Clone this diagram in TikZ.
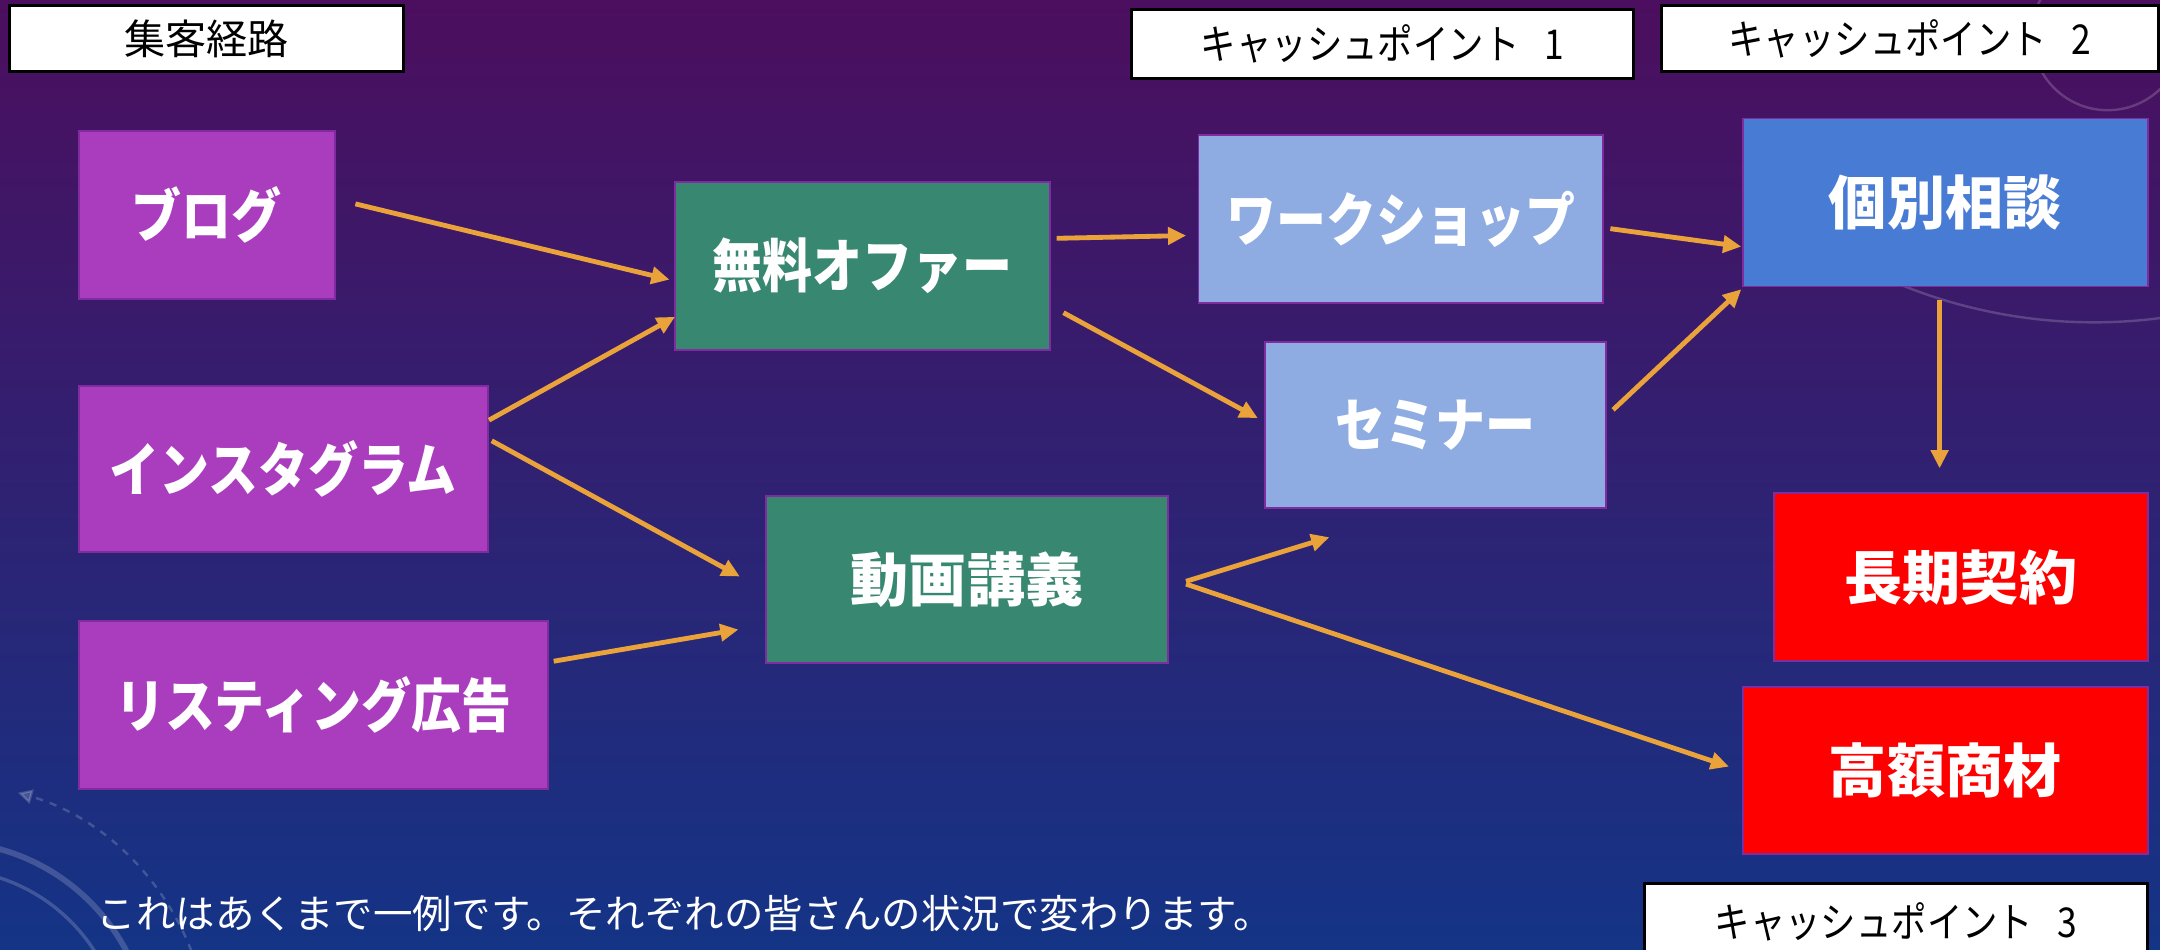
\documentclass[tikz,border=0pt]{standalone}
\usepackage{fontspec}
\setmainfont{Noto Sans CJK JP}
\newfontfamily\condfont[FakeStretch=0.86]{Noto Sans CJK JP}
\usetikzlibrary{arrows.meta,calc}
\definecolor{bgtop}{RGB}{76,14,94}
\definecolor{bgmid}{RGB}{40,30,108}
\definecolor{bgbot}{RGB}{20,52,134}
\definecolor{srcpurple}{RGB}{170,60,190}
\definecolor{offgreen}{RGB}{56,135,112}
\definecolor{lightblue}{RGB}{142,172,225}
\definecolor{midblue}{RGB}{72,124,212}
\definecolor{redbox}{RGB}{255,0,0}
\definecolor{edgepurple}{RGB}{128,44,160}
\definecolor{arrowgold}{RGB}{234,163,58}
\begin{document}
\begin{tikzpicture}[x=0.02cm,y=-0.02cm,
  cbox/.style={draw=edgepurple, line width=0.8pt, inner sep=0pt, outer sep=0pt, text=white},
  katabox/.style={cbox, font=\condfont\bfseries\fontsize{24}{28}\selectfont},
  kanjibox/.style={cbox, font=\bfseries\fontsize{24}{28}\selectfont},
  headlabel/.style={draw=black, fill=white, line width=1.25pt, inner sep=0pt, outer sep=0pt, text=black},
  flow/.style={draw=arrowgold, line width=2pt, -{Triangle[length=7.5pt,width=7pt]}},
  decor/.style={draw=white, opacity=0.18, line width=1pt}]
\useasboundingbox (0,0) rectangle (1568,689);
\clip (0,0) rectangle (1568,689);
\shade[top color=bgtop, middle color=bgmid, bottom color=bgbot] (0,0) rectangle (1568,689);

% faint background decoration
\draw[decor] (1520,-140) ++(118:374) arc[start angle=118, end angle=70, radius=374];
\draw[decor] (1530,25) circle[radius=55];
\draw[decor, line width=2.4pt] (-40,760) circle[radius=149];
\draw[decor, line width=1.4pt] (-40,760) circle[radius=129];
\draw[decor, dashed, -{Triangle[length=6pt,width=6pt]}] (-40,760) ++(-15:192) arc[start angle=-15, end angle=-74, radius=192];

% header labels
\node[headlabel, minimum width=5.72cm, minimum height=0.96cm, font=\fontsize{17}{20}\selectfont] (route) at (150,28) {集客経路};
\node[headlabel, minimum width=7.30cm, minimum height=1.00cm, font=\condfont\fontsize{17}{20}\selectfont] (cp1) at (1003.5,32) {キャッシュポイント\hspace{0.6em}1};
\node[headlabel, minimum width=7.22cm, minimum height=0.96cm, font=\condfont\fontsize{17}{20}\selectfont] (cp2) at (1386.5,28) {キャッシュポイント\hspace{0.6em}2};
\node[headlabel, minimum width=7.30cm, minimum height=1.12cm, font=\condfont\fontsize{17}{20}\selectfont] (cp3) at (1376.5,669) {キャッシュポイント\hspace{0.6em}3};

% sources
\node[katabox, fill=srcpurple, minimum width=3.72cm, minimum height=2.44cm] (blog) at (150,156) {ブログ};
\node[katabox, fill=srcpurple, minimum width=5.94cm, minimum height=2.42cm] (insta) at (205.5,340.5) {インスタグラム};
\node[katabox, fill=srcpurple, minimum width=6.82cm, minimum height=2.44cm] (list) at (227.5,512) {リスティング広告};

% offers
\node[katabox, fill=offgreen, minimum width=5.44cm, minimum height=2.44cm] (offer) at (626,193) {無料オファー};
\node[kanjibox, fill=offgreen, minimum width=5.84cm, minimum height=2.42cm] (video) at (702,420.5) {動画講義};

% cash point 1
\node[katabox, fill=lightblue, minimum width=5.88cm, minimum height=2.44cm] (ws) at (1017,159) {ワークショップ};
\node[katabox, fill=lightblue, minimum width=4.96cm, minimum height=2.42cm] (sem) at (1042,308.5) {セミナー};

% cash point 2 / 3
\node[kanjibox, fill=midblue, minimum width=5.88cm, minimum height=2.44cm] (kobe) at (1412,147) {個別相談};
\node[kanjibox, fill=redbox, minimum width=5.42cm, minimum height=2.44cm] (long) at (1423.5,419) {長期契約};
\node[kanjibox, fill=redbox, minimum width=5.88cm, minimum height=2.42cm] (high) at (1412,559.5) {高額商材};

% footer
\node[anchor=west, inner sep=0pt, text=white, font=\fontsize{16.3}{19}\selectfont] (note) at (70,663) {これはあくまで一例です。それぞれの皆さんの状況で変わります。};

% connectors
\coordinate (vfree) at (965,390);
\draw[flow] ($(blog.east)+(15,-8)$) -- ($(offer.west)+(-4,10)$);
\draw[flow] ($(insta.east)+(1,-35.5)$) -- ($(offer.west)+(0,37)$);
\draw[flow] ($(insta.east)+(3,-20.5)$) -- ($(video.west)+(-19,-2)$);
\draw[flow] ($(list.east)+(4,-32)$) -- ($(video.west)+(-20,36.5)$);
\draw[flow] ($(offer.east)+(5,-20)$) -- ($(ws.west)+(-9,12)$);
\draw[flow] ($(offer.east)+(10,34)$) -- ($(sem.west)+(-5,-5)$);
\draw[flow] ($(video.east)+(13,1.5)$) -- (vfree);
\draw[flow] ($(video.east)+(13,3.5)$) -- ($(high.west)+(-10,-3)$);
\draw[flow] ($(ws.east)+(5,7)$) -- ($(kobe.west)+(-1,32)$);
\draw[flow] ($(sem.east)+(5,-11)$) -- ($(kobe.south west)+(-1,2)$);
\draw[flow] ($(kobe.south)+(-4,10)$) -- ($(long.north)+(-15.5,-18)$);
\end{tikzpicture}
\end{document}
